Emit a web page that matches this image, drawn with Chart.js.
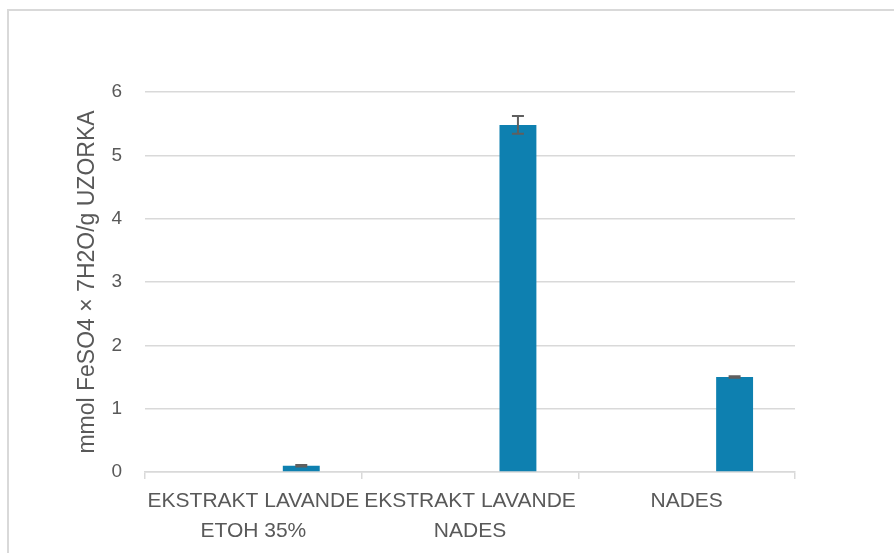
<!DOCTYPE html>
<html>
<head>
<meta charset="utf-8">
<script src="https://cdn.jsdelivr.net/npm/chart.js@4"></script>
<style>
  html, body { margin: 0; padding: 0; background: #ffffff; }
  #wrap { width: 894px; height: 553px; position: relative; }
</style>
</head>
<body>
<div id="wrap"><canvas id="chart"></canvas></div>
<script>
const categories = [
    ['EKSTRAKT LAVANDE', 'ETOH 35%'],
    ['EKSTRAKT LAVANDE', 'NADES'],
    'NADES'
];
const values = [0.10, 5.48, 1.50];
const errors = [0.012, 0.14, 0.012];
const yTicks = [0, 1, 2, 3, 4, 5, 6];
const yTitle = 'mmol FeSO4 × 7H2O/g UZORKA';

const labelColor = '#595959';
const gridColor = '#d9d9d9';
const fontFamily = '"Liberation Sans", Arial, sans-serif';

// frame around the chart, like the Excel chart border
const framePlugin = {
    id: 'frame',
    beforeDraw(chart) {
        const ctx = chart.ctx;
        ctx.save();
        ctx.strokeStyle = gridColor;
        ctx.lineWidth = 2;
        ctx.strokeRect(8, 10, 960, 600);
        ctx.restore();
    }
};

// error bars drawn through the y scale
const errorBarPlugin = {
    id: 'errorBars',
    afterDatasetsDraw(chart) {
        const ctx = chart.ctx;
        const y = chart.scales.y;
        const meta = chart.getDatasetMeta(1);
        ctx.save();
        ctx.strokeStyle = '#5f5f5f';
        ctx.lineWidth = 2;
        meta.data.forEach((bar, i) => {
            const top = y.getPixelForValue(values[i] + errors[i]);
            const bottom = y.getPixelForValue(values[i] - errors[i]);
            const x = bar.x;
            const cap = 6;
            ctx.beginPath();
            ctx.moveTo(x, top);
            ctx.lineTo(x, bottom);
            ctx.moveTo(x - cap, top);
            ctx.lineTo(x + cap, top);
            ctx.moveTo(x - cap, bottom);
            ctx.lineTo(x + cap, bottom);
            ctx.stroke();
        });
        ctx.restore();
    }
};

new Chart(document.getElementById('chart'), {
    type: 'bar',
    data: {
        labels: categories,
        datasets: [
            {
                label: 'empty',
                data: categories.map(() => null),
                backgroundColor: '#0E80B0'
            },
            {
                label: 'FRAP',
                data: values,
                backgroundColor: '#0E80B0'
            }
        ]
    },
    options: {
        responsive: true,
        maintainAspectRatio: false,
        animation: false,
        layout: { padding: { left: 0, right: 99, top: 92, bottom: 0 } },
        plugins: {
            legend: { display: false },
            tooltip: { enabled: false }
        },
        datasets: {
            bar: { barPercentage: 0.385, categoryPercentage: 0.885 }
        },
        scales: {
            x: {
                grid: {
                    display: true,
                    drawOnChartArea: false,
                    drawTicks: true,
                    tickLength: 7,
                    color: gridColor,
                    lineWidth: 1.5
                },
                border: { display: true, color: gridColor, width: 1.5 },
                ticks: {
                    color: labelColor,
                    font: { family: fontFamily, size: 21, lineHeight: 1.4 },
                    maxRotation: 0,
                    autoSkip: false,
                    padding: 8
                },
                afterFit(scale) { scale.height = 81; }
            },
            y: {
                min: 0,
                max: 6,
                afterBuildTicks(scale) {
                    scale.ticks = yTicks.map(v => ({ value: v }));
                },
                grid: {
                    color: gridColor,
                    lineWidth: 1.5,
                    drawTicks: false
                },
                border: { display: false },
                ticks: {
                    color: labelColor,
                    font: { family: fontFamily, size: 19 },
                    padding: 23
                },
                title: {
                    display: true,
                    text: yTitle,
                    color: labelColor,
                    font: { family: fontFamily, size: 23 },
                    padding: { top: 74, bottom: 0 }
                },
                afterFit(scale) { scale.width = 145; }
            }
        }
    },
    plugins: [framePlugin, errorBarPlugin]
});
</script>
</body>
</html>
